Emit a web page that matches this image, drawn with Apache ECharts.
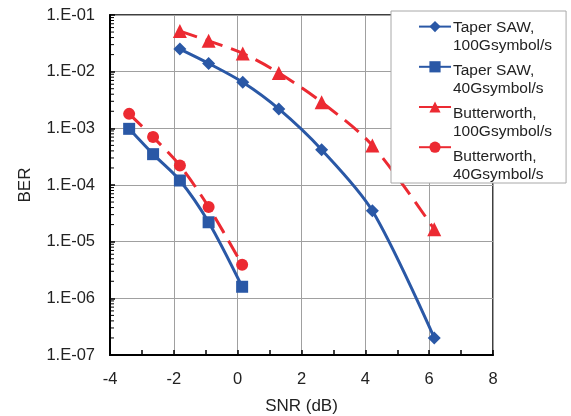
<!DOCTYPE html>
<html>
<head>
<meta charset="utf-8">
<script src="https://cdn.jsdelivr.net/npm/echarts@6/dist/echarts.min.js"></script>
<style>
html,body{margin:0;padding:0;background:#fff;}
#chart{width:571px;height:416px;}
</style>
</head>
<body>
<div id="chart"></div>
<script>
// Data
const seriesNames = ['Taper SAW,\n100Gsymbol/s', 'Taper SAW,\n40Gsymbol/s', 'Butterworth,\n100Gsymbol/s', 'Butterworth,\n40Gsymbol/s'];
const sawHighSNR = [-1.81, -0.91, 0.16, 1.29, 2.63, 4.22, 6.16];
const sawHighBER = [2.5e-2, 1.4e-2, 6.5e-3, 2.2e-3, 4.2e-4, 3.5e-5, 2.0e-7];
const sawLowSNR = [-3.4, -2.65, -1.81, -0.91, 0.14];
const sawLowBER = [9.8e-4, 3.5e-4, 1.2e-4, 2.2e-5, 1.6e-6];
const bwHighSNR = [-1.81, -0.91, 0.16, 1.29, 2.63, 4.22, 6.16];
const bwHighBER = [5.2e-2, 3.5e-2, 2.1e-2, 9.5e-3, 2.9e-3, 5.0e-4, 1.65e-5];
const bwLowSNR = [-3.4, -2.65, -1.81, -0.91, 0.14];
const bwLowBER = [1.8e-3, 7.0e-4, 2.2e-4, 4.1e-5, 3.9e-6];
const xTicks = [-4, -2, 0, 2, 4, 6, 8];
const yTicks = ['1.E-07', '1.E-06', '1.E-05', '1.E-04', '1.E-03', '1.E-02', '1.E-01'];
const decadeExponents = [-7, -6, -5, -4, -3, -2];
const minorMultipliers = [2, 3, 4, 5, 6, 7, 8, 9];

const BLUE = '#2a58a6';
const RED = '#ec2a32';
const X_MIN = -4, X_MAX = 8;
const zip = (xs, ys) => xs.map((x, i) => [x, ys[i]]);
// log-spaced minor tick positions on the BER axis (2..9 x 10^e)
const minorValues = [];
decadeExponents.forEach(e => minorMultipliers.forEach(m => minorValues.push(+(m * Math.pow(10, e)).toPrecision(3))));

const chart = echarts.init(document.getElementById('chart'), null, {renderer: 'canvas'});
const font = 'Liberation Sans, Arial, sans-serif';

function mk(name, xs, ys, color, symbol, size, dashed) {
  return {
    name: name,
    type: 'line',
    data: zip(xs, ys),
    smooth: 0.3,
    symbol: symbol,
    symbolSize: size,
    showSymbol: true,
    lineStyle: {color: color, width: 3, type: dashed ? [18, 9] : 'solid'},
    itemStyle: {color: color},
    z: dashed ? 3 : 2
  };
}

chart.setOption({
  animation: false,
  backgroundColor: '#fff',
  textStyle: {fontFamily: font},
  grid: {left: 110, right: 78, top: 15, bottom: 61, show: true, borderColor: '#000', borderWidth: 1.5,
         containLabel: false, outerBoundsMode: 'none'},
  legend: [
    { // text + frame
      orient: 'vertical',
      left: 391, top: 11,
      padding: [8, 14, 0, 57],
      backgroundColor: '#fff',
      borderColor: '#a8a8a8',
      borderWidth: 1,
      icon: 'none',
      itemWidth: 0, itemHeight: 14,
      itemGap: 8,
      z: 4,
      textStyle: {fontSize: 15.5, color: '#222', lineHeight: 17.5, fontFamily: font},
      data: seriesNames
    },
    { // icons only
      orient: 'vertical',
      left: 418, top: 21,
      padding: 0,
      itemWidth: 32, itemHeight: 14,
      itemGap: 29,
      z: 6,
      lineStyle: {type: 'solid'},
      formatter: () => '',
      textStyle: {fontSize: 4, lineHeight: 4},
      data: seriesNames
    }
  ],
  xAxis: {
    type: 'value', min: X_MIN, max: X_MAX, interval: 2,
    name: 'SNR (dB)', nameLocation: 'middle', nameGap: 43,
    nameTextStyle: {fontSize: 17, color: '#222', fontFamily: font},
    axisLine: {show: true, onZero: false, lineStyle: {color: '#000', width: 2}},
    axisTick: {show: true, inside: true, length: 5, lineStyle: {color: '#000', width: 1.5}},
    minorTick: {show: true, splitNumber: 2, length: 5, lineStyle: {color: '#000', width: 1.5}},
    axisLabel: {fontSize: 16.5, color: '#222', margin: 16, formatter: v => xTicks.includes(v) ? String(v) : ''},
    splitLine: {show: true, lineStyle: {color: '#a0a0a0', width: 1}}
  },
  yAxis: {
    type: 'log', logBase: 10, min: 1e-7, max: 1e-1, position: 'left',
    name: 'BER', nameLocation: 'middle', nameGap: 76,
    nameTextStyle: {fontSize: 17, color: '#222', fontFamily: font},
    axisLine: {show: true, onZero: false, lineStyle: {color: '#000', width: 2}},
    axisTick: {show: true, inside: true, length: 5, lineStyle: {color: '#000', width: 1.5}},
    axisLabel: {fontSize: 16.5, color: '#222', margin: 15,
      formatter: v => { const e = Math.round(Math.log10(v)); return yTicks[e + 7] || ''; }},
    splitLine: {show: true, lineStyle: {color: '#a0a0a0', width: 1}}
  },
  series: [
    mk(seriesNames[0], sawHighSNR, sawHighBER, BLUE, 'diamond', 13, false),
    mk(seriesNames[1], sawLowSNR, sawLowBER, BLUE, 'rect', 12, false),
    mk(seriesNames[2], bwHighSNR, bwHighBER, RED, 'triangle', 14, true),
    mk(seriesNames[3], bwLowSNR, bwLowBER, RED, 'circle', 12, true),
    { // minor tick marks of the log axis, placed through the axis scale
      type: 'custom',
      silent: true,
      z: 5,
      data: minorValues.map(v => [X_MIN, v]),
      renderItem: function (params, api) {
        const p = api.coord([api.value(0), api.value(1)]);
        return {
          type: 'line',
          shape: {x1: p[0], y1: p[1], x2: p[0] + 4, y2: p[1]},
          style: {stroke: '#000', lineWidth: 1}
        };
      }
    }
  ]
});
</script>
</body>
</html>
